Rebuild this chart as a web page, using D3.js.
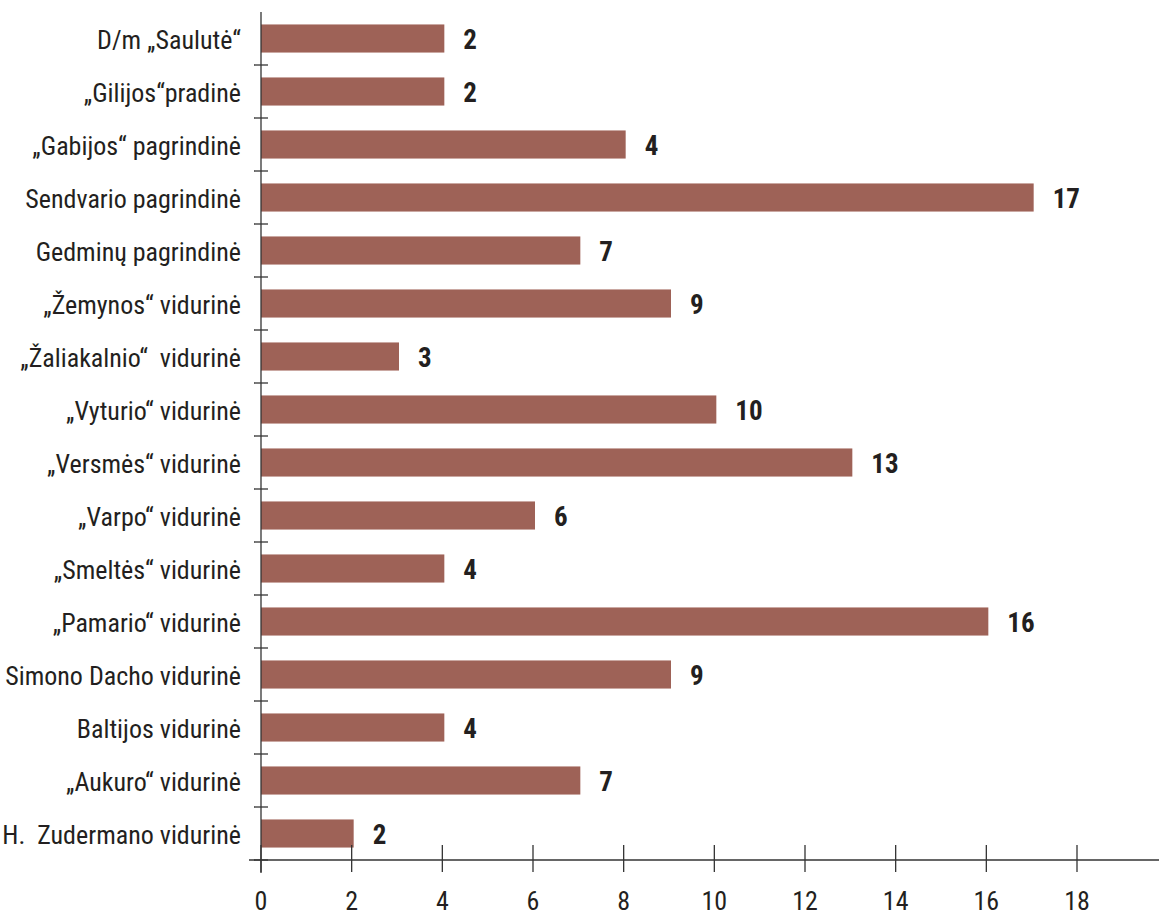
<!DOCTYPE html>
<html>
<head>
<meta charset="utf-8">
<script src="https://cdn.jsdelivr.net/npm/d3@7"></script>
<style>
  html, body { margin: 0; padding: 0; background: #fff; }
  svg { display: block; }
  text { font-family: "Liberation Sans Narrow", "Roboto Condensed", "DejaVu Sans Condensed", sans-serif; fill: #231f20; }
</style>
</head>
<body>
<svg id="chart" width="1159" height="919"></svg>
<script>
const categories = [
  "D/m „Saulutė“",
  "„Gilijos“pradinė",
  "„Gabijos“ pagrindinė",
  "Sendvario pagrindinė",
  "Gedminų pagrindinė",
  "„Žemynos“ vidurinė",
  "„Žaliakalnio“  vidurinė",
  "„Vyturio“ vidurinė",
  "„Versmės“ vidurinė",
  "„Varpo“ vidurinė",
  "„Smeltės“ vidurinė",
  "„Pamario“ vidurinė",
  "Simono Dacho vidurinė",
  "Baltijos vidurinė",
  "„Aukuro“ vidurinė",
  "H.  Zudermano vidurinė"
];
// bar lengths as drawn against the axis
const barValues = [4, 4, 8, 17, 7, 9, 3, 10, 13, 6, 4, 16, 9, 4, 7, 2];
// numbers printed next to the bars
const valueLabels = [2, 2, 4, 17, 7, 9, 3, 10, 13, 6, 4, 16, 9, 4, 7, 2];
const xTicks = [0, 2, 4, 6, 8, 10, 12, 14, 16, 18];

const svg = d3.select("#chart");
const x0 = 261, x18 = 1077;
const x = d3.scaleLinear().domain([0, 18]).range([x0, x18]);
const y = d3.scaleBand().domain(categories).range([12, 860]).paddingInner(0.47).paddingOuter(0.235);
const axisY = 860;
const barColor = "#9e6257";
const lineColor = "#333";

// bars
svg.append("g").selectAll("rect").data(barValues).join("rect")
  .attr("x", x(0))
  .attr("y", (d, i) => y(categories[i]))
  .attr("width", d => x(d) - x(0) + 2)
  .attr("height", y.bandwidth())
  .attr("fill", barColor);

// value labels
svg.append("g").selectAll("text").data(valueLabels).join("text")
  .attr("x", (d, i) => x(barValues[i]) + 21)
  .attr("y", (d, i) => y(categories[i]) + y.bandwidth() / 2)
  .attr("dy", "0.38em")
  .attr("font-size", 27)
  .attr("font-weight", "bold")
  .text(d => d);

// category labels
svg.append("g").selectAll("text").data(categories).join("text")
  .attr("x", 241)
  .attr("y", d => y(d) + y.bandwidth() / 2)
  .attr("dy", "0.4em")
  .attr("text-anchor", "end")
  .attr("font-size", 26)
  .style("white-space", "pre")
  .text(d => d);

// vertical axis
svg.append("line")
  .attr("x1", x0).attr("x2", x0).attr("y1", 12).attr("y2", 873)
  .attr("stroke", lineColor).attr("stroke-width", 1.3);
// y ticks at band boundaries
const step = y.step();
const boundaries = categories.slice(1).map(c => y(c) - (step - y.bandwidth()) / 2);
boundaries.push(axisY);
svg.append("g").selectAll("line").data(boundaries).join("line")
  .attr("x1", x0 - 7).attr("x2", x0 + 7)
  .attr("y1", d => d).attr("y2", d => d)
  .attr("stroke", lineColor).attr("stroke-width", 1.3);

// horizontal axis
svg.append("line")
  .attr("x1", 249).attr("x2", 1159).attr("y1", axisY).attr("y2", axisY)
  .attr("stroke", lineColor).attr("stroke-width", 1.3);
svg.append("g").selectAll("line").data(xTicks).join("line")
  .attr("x1", d => x(d)).attr("x2", d => x(d))
  .attr("y1", axisY - 15).attr("y2", axisY + 12)
  .attr("stroke", lineColor).attr("stroke-width", 1.3);
svg.append("g").selectAll("text").data(xTicks).join("text")
  .attr("x", d => x(d))
  .attr("y", 910)
  .attr("text-anchor", "middle")
  .attr("font-size", 26)
  .text(d => d);
</script>
</body>
</html>
